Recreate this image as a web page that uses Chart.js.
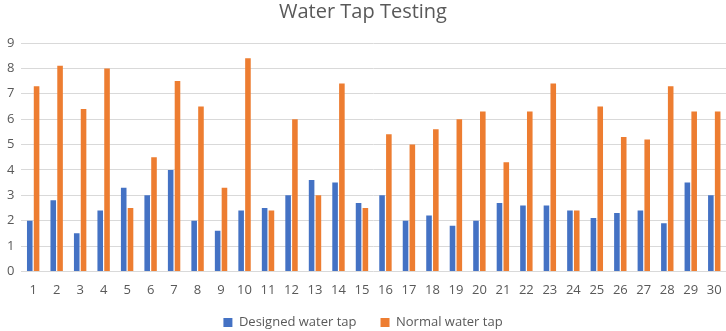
<!DOCTYPE html>
<html><head><meta charset="utf-8">
<script src="https://cdn.jsdelivr.net/npm/chart.js@4"></script>
<style>html,body{margin:0;padding:0;background:#fff}#w{width:726px;height:331px}</style>
</head><body><div id="w"><canvas id="c"></canvas></div>
<script>
const categories = ["1","2","3","4","5","6","7","8","9","10","11","12","13","14","15","16","17","18","19","20","21","22","23","24","25","26","27","28","29","30"];
const designedWaterTap = [2,2.8,1.5,2.4,3.3,3,4,2,1.6,2.4,2.5,3,3.6,3.5,2.7,3,2,2.2,1.8,2,2.7,2.6,2.6,2.4,2.1,2.3,2.4,1.9,3.5,3];
const normalWaterTap = [7.3,8.1,6.4,8,2.5,4.5,7.5,6.5,3.3,8.4,2.4,6,3,7.4,2.5,5.4,5,5.6,6,6.3,4.3,6.3,7.4,2.4,6.5,5.3,5.2,7.3,6.3,6.3];
const yTicks = [0,1,2,3,4,5,6,7,8,9];
const FONT = "'Open Sans', 'Noto Sans', sans-serif";
// After layout: place the legend row near the bottom edge (box extended so it is not clipped)
const legendAdjust = {
  id: 'legendAdjust',
  afterLayout(chart) {
    const lg = chart.legend;
    if (!lg) return;
    lg.top = chart.height - 39;
    lg.bottom = chart.height;
    lg.height = 39;
  }
};
new Chart(document.getElementById('c'), {
  type: 'bar',
  data: {
    labels: categories,
    datasets: [
      {label: 'Designed water tap', data: designedWaterTap, backgroundColor: '#4472C4'},
      {label: 'Normal water tap', data: normalWaterTap, backgroundColor: '#ED7D31'}
    ]
  },
  plugins: [legendAdjust],
  options: {
    responsive: true, maintainAspectRatio: false, animation: false,
    categoryPercentage: 0.58, barPercentage: 0.82,
    layout: {padding: {left: 0, right: 0, top: 0, bottom: 0}},
    plugins: {
      title: {display: true, text: 'Water Tap Testing', color: '#595959',
        font: {family: FONT, size: 20, weight: 'normal'}, padding: {top: 0, bottom: 19}},
      legend: {position: 'bottom', maxHeight: 30, labels: {color: '#595959', boxWidth: 9, boxHeight: 9,
        font: {family: FONT, size: 13}, padding: 24}},
      tooltip: {enabled: false}
    },
    scales: {
      x: {grid: {display: false}, border: {display: false},
        ticks: {color: '#595959', font: {family: FONT, size: 13}, maxRotation: 0, autoSkip: false}},
      y: {min: 0, max: 9, afterBuildTicks: a => { a.ticks = yTicks.map(v => ({value: v})); },
        grid: {color: '#d9d9d9', drawTicks: false}, border: {display: false},
        ticks: {color: '#595959', font: {family: FONT, size: 13}, padding: 7}}
    }
  }
});
</script></body></html>
